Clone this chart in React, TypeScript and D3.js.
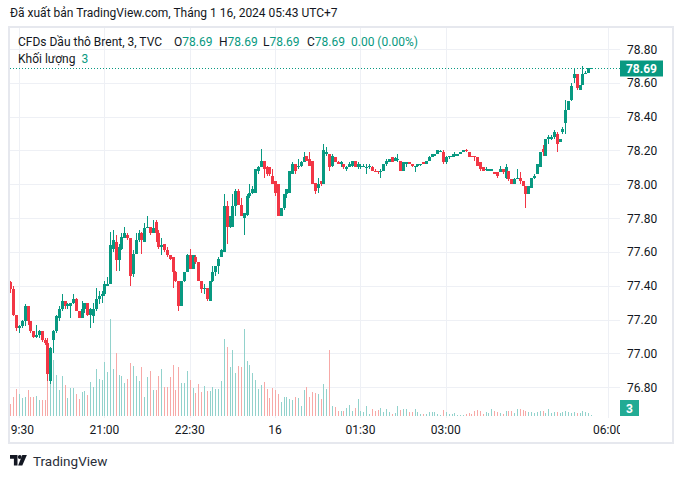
import React from 'react';
import * as d3 from 'd3';

const W = 682;
const H = 479;

const titleText = 'Đã xuất bản TradingView.com, Tháng 1 16, 2024 05:43 UTC+7';
const symbolText = 'CFDs Dầu thô Brent, 3, TVC';
const volumeText = 'Khối lượng';

// [open, high, low, close] per 3-minute bar
const candles: [number, number, number, number][] = [
  [77.42, 77.43, 77.36, 77.38], [77.38, 77.40, 77.22, 77.23], [77.23, 77.23, 77.13, 77.15], [77.15, 77.17, 77.12, 77.16],
  [77.16, 77.20, 77.15, 77.19], [77.19, 77.29, 77.16, 77.28], [77.28, 77.28, 77.17, 77.19], [77.19, 77.19, 77.12, 77.13],
  [77.13, 77.13, 77.09, 77.10], [77.10, 77.17, 77.09, 77.11], [77.11, 77.14, 77.09, 77.13], [77.13, 77.13, 77.07, 77.08],
  [77.08, 77.09, 77.05, 77.06], [77.06, 77.09, 76.84, 76.88], [76.84, 77.04, 76.82, 77.03], [77.08, 77.14, 77.00, 77.13],
  [77.13, 77.23, 77.12, 77.22], [77.21, 77.28, 77.19, 77.26], [77.26, 77.35, 77.25, 77.31], [77.31, 77.31, 77.26, 77.28],
  [77.28, 77.30, 77.26, 77.29], [77.28, 77.30, 77.21, 77.30], [77.30, 77.35, 77.29, 77.32], [77.32, 77.33, 77.25, 77.25],
  [77.25, 77.25, 77.21, 77.21], [77.21, 77.31, 77.21, 77.26], [77.26, 77.30, 77.24, 77.30], [77.30, 77.30, 77.22, 77.23],
  [77.23, 77.27, 77.15, 77.26], [77.22, 77.30, 77.18, 77.26], [77.26, 77.39, 77.25, 77.32], [77.32, 77.37, 77.29, 77.34],
  [77.34, 77.37, 77.30, 77.35], [77.35, 77.43, 77.34, 77.41], [77.40, 77.45, 77.40, 77.41], [77.41, 77.72, 77.41, 77.64],
  [77.62, 77.73, 77.60, 77.67], [77.66, 77.70, 77.49, 77.55], [77.55, 77.65, 77.49, 77.63], [77.62, 77.71, 77.61, 77.69],
  [77.68, 77.75, 77.68, 77.71], [77.70, 77.71, 77.67, 77.68], [77.68, 77.68, 77.40, 77.46], [77.47, 77.61, 77.45, 77.59],
  [77.59, 77.71, 77.59, 77.67], [77.67, 77.73, 77.66, 77.71], [77.71, 77.72, 77.59, 77.67], [77.66, 77.77, 77.66, 77.74],
  [77.74, 77.81, 77.74, 77.75], [77.75, 77.75, 77.70, 77.71], [77.71, 77.79, 77.71, 77.74], [77.78, 77.79, 77.66, 77.71],
  [77.71, 77.73, 77.62, 77.63], [77.63, 77.68, 77.58, 77.64], [77.65, 77.65, 77.60, 77.61], [77.61, 77.63, 77.57, 77.58],
  [77.58, 77.58, 77.55, 77.56], [77.57, 77.57, 77.39, 77.48], [77.48, 77.49, 77.42, 77.43], [77.43, 77.43, 77.25, 77.28],
  [77.28, 77.43, 77.28, 77.43], [77.43, 77.48, 77.42, 77.48], [77.48, 77.59, 77.48, 77.58], [77.58, 77.62, 77.50, 77.50],
  [77.50, 77.58, 77.50, 77.58], [77.57, 77.58, 77.53, 77.54], [77.54, 77.54, 77.43, 77.43], [77.43, 77.43, 77.36, 77.38],
  [77.38, 77.41, 77.35, 77.39], [77.39, 77.39, 77.31, 77.32], [77.31, 77.43, 77.31, 77.43], [77.43, 77.52, 77.42, 77.48],
  [77.48, 77.52, 77.46, 77.52], [77.52, 77.57, 77.47, 77.56], [77.57, 77.62, 77.57, 77.61], [77.60, 77.94, 77.60, 77.87],
  [77.87, 77.90, 77.65, 77.75], [77.75, 77.81, 77.74, 77.81], [77.75, 77.94, 77.75, 77.87], [77.87, 77.97, 77.81, 77.96],
  [77.96, 77.97, 77.88, 77.88], [77.88, 77.92, 77.81, 77.81], [77.80, 77.83, 77.70, 77.83], [77.82, 77.94, 77.81, 77.93],
  [77.93, 78.00, 77.92, 77.95], [77.95, 77.99, 77.94, 77.97], [77.95, 78.09, 77.95, 78.09], [78.08, 78.11, 78.06, 78.10],
  [78.10, 78.21, 78.10, 78.14], [78.14, 78.14, 78.04, 78.09], [78.10, 78.11, 78.05, 78.06], [78.10, 78.10, 78.05, 78.06],
  [78.05, 78.09, 78.00, 78.00], [78.02, 78.02, 77.93, 77.95], [78.00, 78.00, 77.81, 77.81], [77.81, 77.86, 77.81, 77.86],
  [77.86, 77.94, 77.85, 77.94], [77.94, 77.97, 77.92, 77.97], [77.95, 78.08, 77.95, 78.08], [78.06, 78.13, 78.06, 78.12],
  [78.12, 78.12, 78.06, 78.08], [78.10, 78.15, 78.09, 78.11], [78.11, 78.14, 78.10, 78.13], [78.13, 78.19, 78.13, 78.16],
  [78.17, 78.17, 78.14, 78.14], [78.15, 78.19, 78.11, 78.11], [78.14, 78.14, 78.00, 78.00], [78.01, 78.01, 77.94, 77.96],
  [77.98, 78.04, 77.95, 78.00], [78.02, 78.02, 77.99, 78.00], [78.00, 78.24, 78.00, 78.20], [78.18, 78.22, 78.17, 78.19],
  [78.18, 78.18, 78.08, 78.10], [78.11, 78.18, 78.10, 78.17], [78.16, 78.16, 78.13, 78.13], [78.13, 78.14, 78.12, 78.12],
  [78.12, 78.14, 78.10, 78.13], [78.12, 78.12, 78.09, 78.10], [78.09, 78.11, 78.08, 78.10], [78.10, 78.13, 78.10, 78.12],
  [78.11, 78.14, 78.10, 78.14], [78.14, 78.14, 78.10, 78.10], [78.10, 78.13, 78.09, 78.12], [78.10, 78.12, 78.09, 78.11],
  [78.10, 78.12, 78.10, 78.11], [78.10, 78.12, 78.06, 78.10], [78.10, 78.12, 78.09, 78.11], [78.10, 78.11, 78.08, 78.08],
  [78.08, 78.09, 78.07, 78.07], [78.08, 78.08, 78.06, 78.07], [78.07, 78.09, 78.04, 78.08], [78.08, 78.12, 78.08, 78.12],
  [78.12, 78.15, 78.11, 78.14], [78.13, 78.15, 78.13, 78.15], [78.16, 78.16, 78.13, 78.13], [78.14, 78.16, 78.14, 78.155],
  [78.15, 78.18, 78.13, 78.15], [78.14, 78.14, 78.08, 78.08], [78.08, 78.13, 78.08, 78.13], [78.12, 78.13, 78.10, 78.13],
  [78.13, 78.13, 78.12, 78.12], [78.12, 78.12, 78.10, 78.11], [78.10, 78.11, 78.07, 78.11], [78.11, 78.12, 78.10, 78.12],
  [78.12, 78.12, 78.11, 78.12], [78.13, 78.13, 78.12, 78.12], [78.12, 78.14, 78.12, 78.14], [78.14, 78.17, 78.14, 78.16],
  [78.16, 78.18, 78.16, 78.18], [78.17, 78.18, 78.17, 78.18], [78.18, 78.20, 78.18, 78.20], [78.19, 78.20, 78.19, 78.195],
  [78.19, 78.20, 78.12, 78.13], [78.13, 78.17, 78.12, 78.16], [78.16, 78.17, 78.15, 78.17], [78.16, 78.18, 78.16, 78.17],
  [78.17, 78.19, 78.16, 78.18], [78.17, 78.18, 78.17, 78.18], [78.18, 78.19, 78.18, 78.19], [78.19, 78.20, 78.19, 78.20],
  [78.20, 78.21, 78.19, 78.195], [78.19, 78.19, 78.16, 78.16], [78.165, 78.17, 78.16, 78.16], [78.165, 78.17, 78.14, 78.16],
  [78.16, 78.16, 78.11, 78.11], [78.13, 78.13, 78.08, 78.09], [78.10, 78.10, 78.08, 78.08], [78.085, 78.10, 78.08, 78.09],
  [78.08, 78.09, 78.08, 78.09], [78.08, 78.09, 78.08, 78.09], [78.07, 78.07, 78.06, 78.06], [78.07, 78.07, 78.04, 78.05],
  [78.07, 78.11, 78.07, 78.09], [78.09, 78.09, 78.06, 78.07], [78.04, 78.12, 78.03, 78.10], [78.08, 78.08, 78.02, 78.03],
  [78.03, 78.03, 78.00, 78.00], [78.00, 78.04, 78.00, 78.03], [78.03, 78.09, 78.03, 78.04], [78.04, 78.07, 78.00, 78.02],
  [78.02, 78.02, 77.99, 77.99], [77.99, 77.99, 77.86, 77.94], [77.94, 77.99, 77.94, 77.99], [77.98, 78.04, 77.98, 78.04],
  [78.04, 78.06, 78.03, 78.05], [78.06, 78.12, 78.06, 78.12], [78.10, 78.19, 78.10, 78.19], [78.21, 78.23, 78.17, 78.19],
  [78.17, 78.27, 78.17, 78.27], [78.27, 78.29, 78.24, 78.28], [78.27, 78.29, 78.26, 78.28], [78.28, 78.32, 78.27, 78.31],
  [78.30, 78.31, 78.19, 78.24], [78.25, 78.27, 78.25, 78.27], [78.31, 78.34, 78.30, 78.33], [78.36, 78.50, 78.30, 78.44],
  [78.44, 78.49, 78.44, 78.49], [78.50, 78.60, 78.49, 78.58], [78.63, 78.68, 78.60, 78.65], [78.65, 78.65, 78.56, 78.57],
  [78.56, 78.59, 78.56, 78.59], [78.59, 78.70, 78.59, 78.65], [78.65, 78.67, 78.65, 78.66], [78.66, 78.69, 78.66, 78.69],
  [78.69, 78.69, 78.69, 78.69],
];

// volume per bar (contracts)
const volumes: number[] = [
  36, 57, 81, 66, 54, 57, 78, 57, 57, 60, 48, 48, 48, 234, 138, 168, 123, 78, 120, 93,
  54, 84, 84, 66, 51, 72, 75, 63, 102, 87, 141, 111, 108, 162, 132, 291, 141, 189, 123, 120,
  99, 111, 159, 150, 120, 105, 147, 57, 117, 135, 78, 78, 120, 141, 87, 87, 117, 153, 78, 147,
  99, 99, 135, 108, 84, 69, 96, 72, 90, 75, 75, 87, 81, 81, 105, 231, 207, 147, 198, 129,
  150, 147, 261, 165, 153, 129, 108, 81, 93, 102, 81, 54, 84, 78, 66, 42, 57, 57, 51, 48,
  57, 54, 30, 78, 87, 57, 72, 69, 66, 51, 96, 81, 198, 30, 27, 15, 15, 15, 24, 33,
  15, 24, 51, 15, 12, 30, 6, 21, 15, 18, 24, 12, 21, 12, 6, 9, 30, 18, 21, 21,
  12, 12, 21, 12, 6, 6, 6, 12, 12, 12, 6, 3, 18, 12, 6, 6, 9, 3, 3, 3,
  6, 9, 6, 15, 18, 15, 6, 12, 9, 21, 15, 12, 9, 6, 15, 15, 15, 9, 21, 21,
  18, 15, 12, 12, 9, 12, 15, 15, 9, 21, 9, 12, 12, 9, 12, 15, 12, 9, 12, 9,
  9, 15, 12, 9, 3,
];

const priceTicks = [76.8, 77.0, 77.2, 77.4, 77.6, 77.8, 78.0, 78.2, 78.4, 78.6, 78.8];
const timeTickLabels = ['19:30', '21:00', '22:30', '16', '01:30', '03:00', '06:00'];
const timeTickBars = [3, 33, 63, 93, 123, 153, 210];

const UP = '#089981';
const DOWN = '#F23645';
const UP_VOL = '#92d2cc';
const DOWN_VOL = '#f7a9a7';
const GRID = '#eef0f5';
const TEXT = '#131722';
const FONT = "Roboto, 'Noto Sans', sans-serif";

export default function App() {
  const plotLeft = 10;
  const plotRight = 620;
  const plotTop = 28;
  const plotBottom = 418;

  const x = d3.scaleLinear().domain([3, 210]).range([19, 608]);
  const y = d3.scaleLinear().domain([76.8, 78.8]).range([387.3, 49]);
  const maxVol = d3.max(volumes) as number;
  const yv = d3.scaleLinear().domain([0, maxVol]).range([416, 319]);

  const last = candles[candles.length - 1];
  const prev = candles[candles.length - 2];
  const chg = last[3] - prev[3];
  const chgPct = (chg / prev[3]) * 100;
  const lastVol = volumes[volumes.length - 1];
  const fmt = d3.format('.2f');

  const yLast = Math.round(y(last[3])) + 0.5;

  return (
    <svg width={W} height={H} style={{ position: 'absolute', left: 0, top: 0, background: '#fff' }} fontFamily={FONT}>
      <defs>
        <clipPath id="plot">
          <rect x={plotLeft} y={plotTop} width={plotRight - plotLeft} height={plotBottom - plotTop} />
        </clipPath>
        <clipPath id="timeaxis">
          <rect x={plotLeft} y={plotBottom} width={plotRight - plotLeft} height={24} />
        </clipPath>
      </defs>
      <rect x={0} y={0} width={W} height={H} fill="#fff" />
      <text x={10} y={17} fontSize={12} fill={TEXT}>{titleText}</text>

      {/* grid */}
      <g clipPath="url(#plot)" shapeRendering="crispEdges">
        {priceTicks.map((p) => (
          <line key={'h' + p} x1={plotLeft} x2={plotRight} y1={Math.round(y(p)) + 0.5} y2={Math.round(y(p)) + 0.5} stroke={GRID} strokeWidth={1} />
        ))}
        {timeTickBars.map((b) => (
          <line key={'v' + b} x1={Math.round(x(b)) + 0.5} x2={Math.round(x(b)) + 0.5} y1={plotTop} y2={plotBottom} stroke={GRID} strokeWidth={1} />
        ))}
      </g>

      {/* volume */}
      <g clipPath="url(#plot)" shapeRendering="crispEdges">
        {volumes.map((v, i) => {
          const c = candles[i];
          const up = c[3] >= c[0];
          const cx = Math.round(x(i));
          const top = Math.round(yv(v));
          return <rect key={'v' + i} x={cx} y={top} width={1} height={Math.max(1, 416 - top)} fill={up ? UP_VOL : DOWN_VOL} />;
        })}
      </g>

      {/* candles */}
      <g clipPath="url(#plot)" shapeRendering="crispEdges">
        {candles.map((c, i) => {
          const [o, h, l, cl] = c;
          const up = cl >= o;
          const col = up ? UP : DOWN;
          const cx = Math.round(x(i));
          const yTop = Math.round(y(Math.max(o, cl)));
          const yBot = Math.round(y(Math.min(o, cl)));
          const yH = Math.round(y(h));
          const yL = Math.round(y(l));
          return (
            <g key={'c' + i}>
              <rect x={cx} y={yH} width={1} height={Math.max(1, yL - yH)} fill={col} />
              <rect x={cx - 1} y={yTop} width={3} height={Math.max(1, yBot - yTop)} fill={col} />
            </g>
          );
        })}
      </g>

      {/* last price line */}
      <line x1={plotLeft} x2={plotRight} y1={yLast} y2={yLast} stroke={UP} strokeWidth={1} strokeDasharray="1 2" />

      {/* legend */}
      <text x={18} y={46} fontSize={12} fill={TEXT}>{symbolText}</text>
      <text x={174} y={46} fontSize={12} fill={TEXT}>O<tspan fill={UP}>{fmt(last[0])}</tspan></text>
      <text x={219} y={46} fontSize={12} fill={TEXT}>H<tspan fill={UP}>{fmt(last[1])}</tspan></text>
      <text x={263} y={46} fontSize={12} fill={TEXT}>L<tspan fill={UP}>{fmt(last[2])}</tspan></text>
      <text x={307} y={46} fontSize={12} fill={TEXT}>C<tspan fill={UP}>{fmt(last[3])}</tspan></text>
      <text x={351} y={46} fontSize={12} fill={UP}>{`${fmt(chg)} (${fmt(chgPct)}%)`}</text>
      <text x={18} y={63} fontSize={12} fill={TEXT}>{volumeText}<tspan dx={6} fill={UP}>{lastVol}</tspan></text>

      {/* price axis */}
      {priceTicks.map((p) => (
        <text key={'pt' + p} x={627} y={y(p) + 4.5} fontSize={12} fill={TEXT}>{fmt(p)}</text>
      ))}
      <rect x={620} y={yLast - 8} width={43} height={16} fill={UP} />
      <text x={641.5} y={yLast + 4.5} fontSize={12} fontWeight="bold" fill="#fff" textAnchor="middle">{fmt(last[3])}</text>
      <rect x={620} y={400} width={19} height={16} fill="#22ab94" />
      <text x={629.5} y={412.5} fontSize={12} fontWeight="bold" fill="#fff" textAnchor="middle">{lastVol}</text>

      {/* time axis */}
      <g clipPath="url(#timeaxis)">
        {timeTickBars.map((b, k) => (
          <text key={'tt' + b} x={x(b)} y={434} fontSize={12} fill={TEXT} textAnchor="middle">{timeTickLabels[k]}</text>
        ))}
      </g>

      {/* frame */}
      <rect x={9} y={27} width={664} height={416} fill="none" stroke="#e6e8ee" strokeWidth={2} />

      {/* TradingView logo */}
      <g fill="#131722">
        <path d="M10 455 h7.5 v10.5 h-3.6 v-6.8 h-3.9 z" />
        <circle cx={19.8} cy={457} r={1.9} />
        <path d="M22.3 455 h4.6 l-4.6 10.5 h-4.2 z" />
      </g>
      <text x={33} y={466} fontSize={13.5} fill="#2a2e39">TradingView</text>
    </svg>
  );
}
